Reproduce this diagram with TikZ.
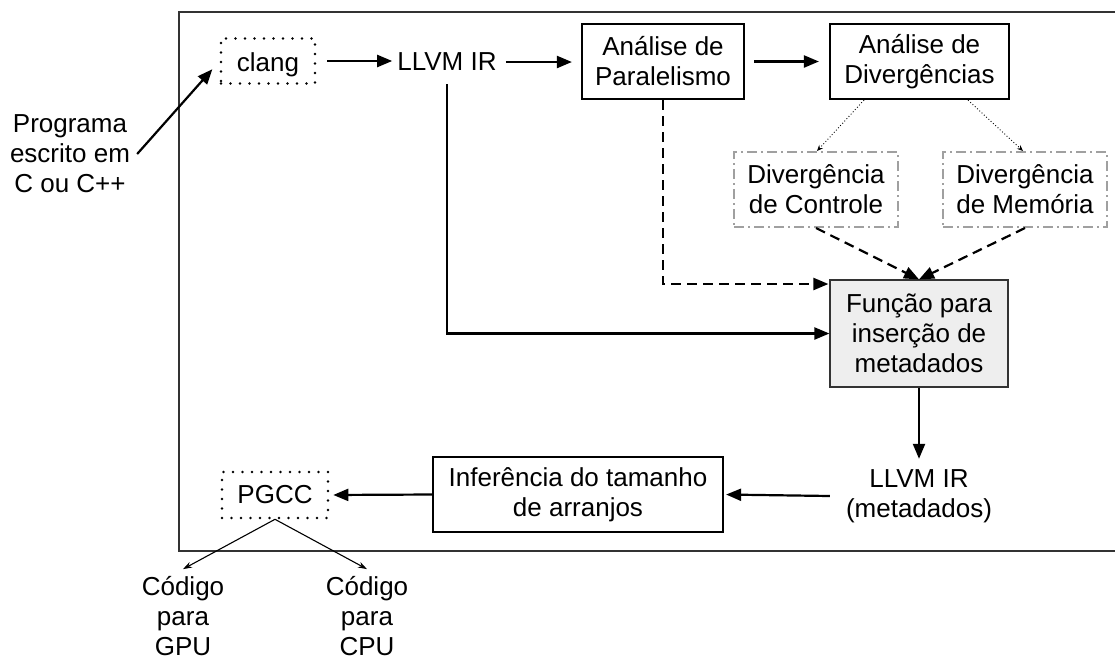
\documentclass[tikz,border=0pt]{standalone}
\usepackage{fontspec}
\setmainfont{Liberation Sans}
\usetikzlibrary{arrows.meta}
\definecolor{framegray}{HTML}{333333}
\definecolor{boxgray}{HTML}{A0A0A0}
\definecolor{fillgray}{HTML}{EEEEEE}
\begin{document}
\begin{tikzpicture}[x=1pt,y=-1pt,
  every node/.style={font=\fontsize{26}{30}\selectfont, align=center, inner sep=0pt},
  thickbox/.style={draw=black, line width=2.2pt},
  dotbox/.style={draw=black, line width=2.6pt, line cap=round, dash pattern=on 0pt off 9.5pt},
  dashdotbox/.style={draw=boxgray, line width=2pt, dash pattern=on 10pt off 4pt on 2pt off 4pt},
  shadedbox/.style={draw=framegray, line width=1.2pt, fill=fillgray},
  flow/.style={line width=2.2pt, -{Triangle[length=15pt,width=12pt]}},
  dashflow/.style={flow, dash pattern=on 10pt off 6pt},
  hint/.style={line width=0.9pt, dash pattern=on 0.9pt off 2.2pt, -{Stealth[length=6pt,width=5pt]}},
  outflow/.style={line width=1.1pt, -{Stealth[length=9pt,width=6pt]}}]

\useasboundingbox (0,0) rectangle (1115,659);

% outer frame (runs past the right edge of the page)
\draw[framegray, line width=1.2pt] (179,12) rectangle (1125,551);

% nodes
\node[inner xsep=7pt] (prog) at (70,154) {Programa\\escrito em\\C ou C++};
\node[dotbox, minimum width=94pt, minimum height=45pt, text height=20pt, text depth=0pt] (clang) at (268,61) {clang};
\node[inner xsep=5pt, minimum height=44pt] (ir) at (447,62) {LLVM IR};
\node[thickbox, minimum width=162pt, minimum height=75pt] (par) at (663,61.5) {Análise de\\Paralelismo};
\node[thickbox, minimum width=179pt, minimum height=75pt] (div) at (919.5,61.5) {Análise de\\Divergências\vphantom{P}};
\node[dashdotbox, minimum width=164pt, minimum height=75pt] (ctl) at (816,189.5) {Divergência\\de Controle};
\node[dashdotbox, minimum width=164pt, minimum height=75pt] (mem) at (1025,189.5) {Divergência\\de Memória};
\node[shadedbox, minimum width=178pt, minimum height=107pt] (fun) at (919,333.5) {Função para\\inserção de\\metadados};
\node[minimum width=178pt, minimum height=74pt] (irmeta) at (919,496) {LLVM IR\\(metadados)};
\node[thickbox, minimum width=290pt, minimum height=75pt] (inf) at (578,494.5) {Inferência do tamanho\\de arranjos};
\node[dotbox, minimum width=106pt, minimum height=46pt] (pgcc) at (275,495) {PGCC};
\node (gpu) at (183,616) {Código\\para\\GPU};
\node (cpu) at (367,616) {Código\\para\\CPU};

% connectors
\draw[flow, shorten >=11pt] (prog.east) -- (clang.west);
\draw[flow, shorten <=11pt] (clang.east) -- (clang.east -| ir.west);
\draw[flow, shorten <=4pt, shorten >=9pt] (ir.east) -- (ir.east -| par.west);
\draw[flow, shorten <=9pt, shorten >=10pt] (par.east) -- (div.west);
\draw[hint] ([xshift=-55.5pt]div.south) -- ([xshift=1pt]ctl.north);
\draw[hint] ([xshift=48.5pt]div.south) -- ([xshift=-2pt]mem.north);
\draw[dashflow] (ctl.south) -- (fun.north);
\draw[dashflow] (mem.south) -- (fun.north);
\draw[dashflow, shorten >=1pt] (par.south) |- ([yshift=49.5pt]fun.west);
\draw[flow] (ir.south) |- (fun.west);
\draw[flow] (fun.south) -- (irmeta.north);
\draw[flow, shorten >=2pt] (irmeta.west) -- (inf.east);
\draw[flow, shorten >=4pt] (inf.west) -- (pgcc.east);
\draw[outflow] (pgcc.south) -- ([yshift=7pt]gpu.north);
\draw[outflow] (pgcc.south) -- ([yshift=7pt]cpu.north);
\end{tikzpicture}
\end{document}
